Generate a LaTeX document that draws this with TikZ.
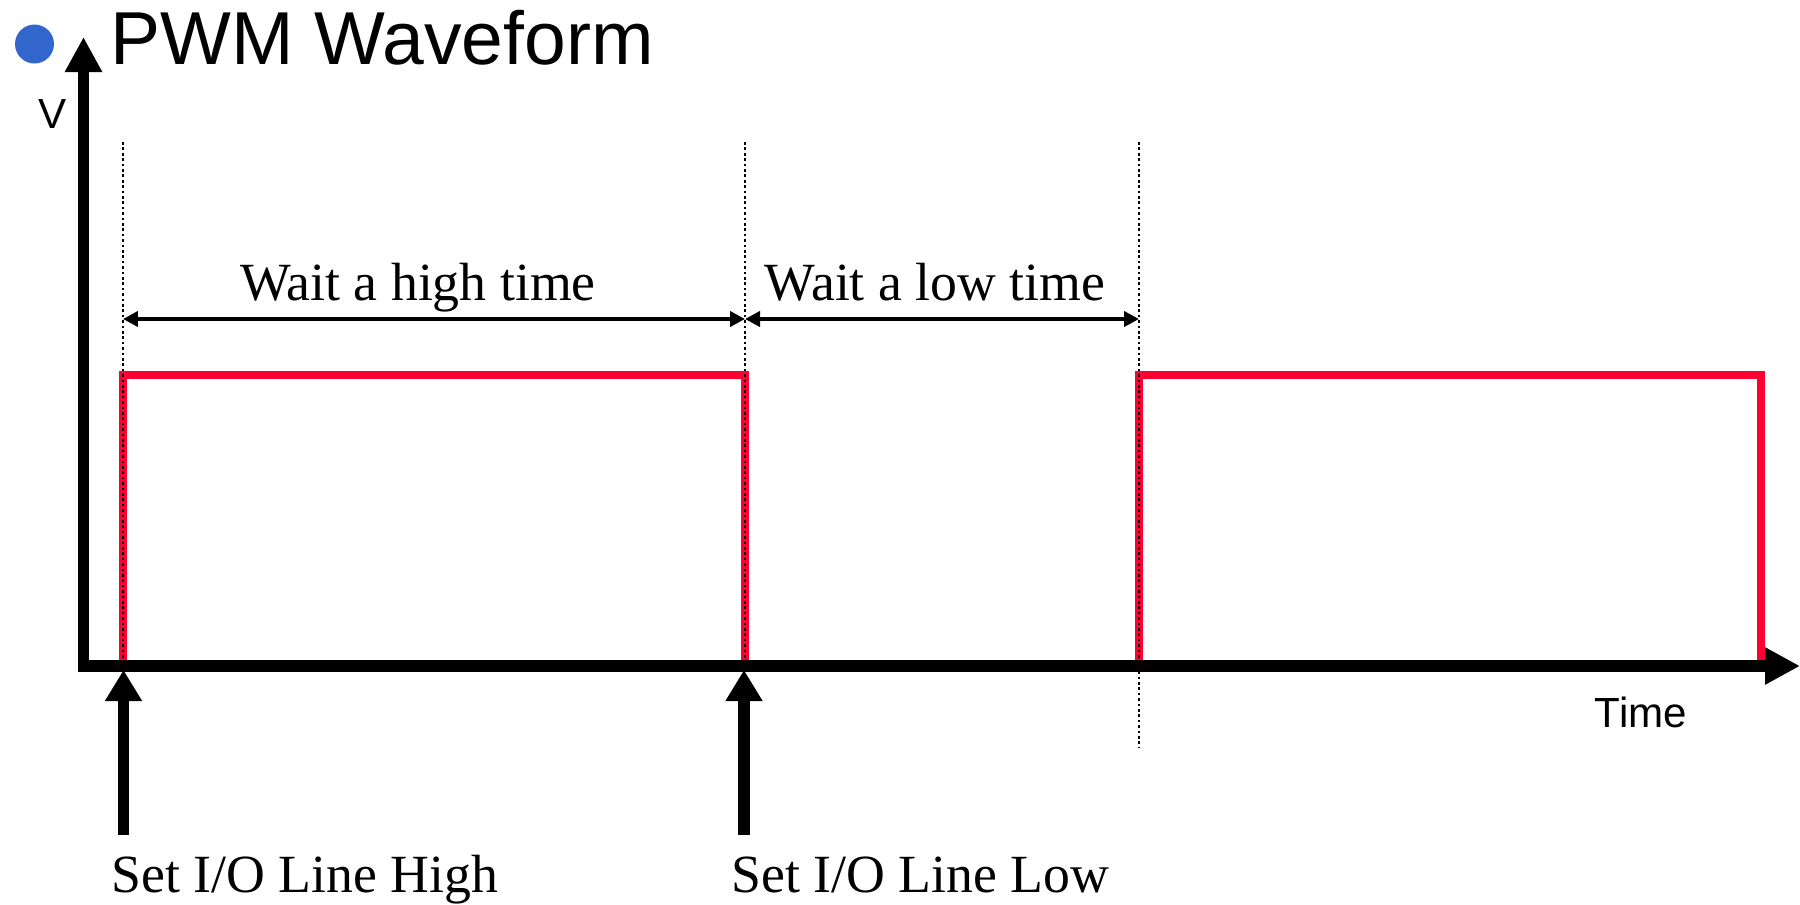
\documentclass[tikz,border=0pt]{standalone}
\usepackage{fontspec}
\setmainfont{Liberation Serif}
\setsansfont{Liberation Sans}
\usetikzlibrary{positioning, arrows.meta}
\definecolor{pwmred}{HTML}{FF0033}
\definecolor{bulletblue}{HTML}{3366CC}

\begin{document}
\begin{tikzpicture}[
    x=0.02cm,
    y=-0.02cm,
    axis/.style={
        {Triangle[length=0.7cm, width=0.7cm]}-{Triangle[length=0.7cm, width=0.7cm]},
        line width=0.234cm,
        line join=miter
    },
    push/.style={
        -{Triangle[length=0.62cm, width=0.7cm]},
        line width=0.234cm
    },
    span/.style={
        {Triangle[length=0.3cm, width=0.3cm]}-{Triangle[length=0.3cm, width=0.3cm]},
        line width=0.08cm
    },
    wave/.style={
        draw=pwmred,
        line width=0.15cm,
        line join=miter
    },
    guide/.style={
        line width=0.054cm,
        dash pattern=on 0.054cm off 0.054cm
    },
    waitlabel/.style={
        font=\fontsize{30.6}{36}\selectfont,
        inner sep=0pt,
        anchor=base
    },
    setlabel/.style={
        waitlabel,
        anchor=base west
    },
    sanslabel/.style={
        font=\sffamily\fontsize{24}{28}\selectfont,
        inner sep=0pt,
        anchor=base
    }
]
    \useasboundingbox (0,0) rectangle (1800,904);

    % Title
    \node[circle, fill=bulletblue, inner sep=0pt, minimum size=0.78cm] (bullet) at (34.5,44) {};
    \node[font=\sffamily\fontsize{42.7}{48}\selectfont, inner sep=0pt, anchor=base west] (title) at (110,64) {PWM Waveform};

    % Edges of the waveform
    \coordinate (origin) at (83.5,666);
    \coordinate (vtip) at (83.5,37);
    \coordinate (ttip) at (1800,666);
    \coordinate (rise1) at (123,666);
    \coordinate (fall1) at (745,666);
    \coordinate (rise2) at (1139,666);
    \coordinate (fall2) at (1761,666);

    % Waveform
    \draw[wave] (rise1) -- (123,375) -- (745,375) -- (fall1);
    \draw[wave] (rise2) -- (1139,375) -- (1761,375) -- (fall2);

    % Guides
    \draw[guide] (123,142) -- (rise1);
    \draw[guide] (745,142) -- (fall1);
    \draw[guide] (1139,142) -- (1139,747);

    % Axes
    \draw[axis] (vtip) -- (origin) -- (ttip);
    \node[sanslabel] (vlabel) at (52.5,128) {V};
    \node[sanslabel] (timelabel) at (1641,727) {Time};

    % High and low times
    \coordinate (span0) at (123,319);
    \coordinate (span1) at (745,319);
    \coordinate (span2) at (1139,319);
    \draw[span] (span0) -- (span1);
    \draw[span] (span1) -- (span2);
    \node[waitlabel] (highwait) at (418,300) {Wait a high time};
    \node[waitlabel] (lowwait) at (935,300) {Wait a low time};

    % Set the I/O line
    \coordinate (hit1) at (123.5,670);
    \coordinate (hit2) at (744,670);
    \coordinate (push1) at (123.5,835);
    \coordinate (push2) at (744,835);
    \draw[push] (push1) -- (hit1);
    \draw[push] (push2) -- (hit2);
    \node[setlabel] (sethigh) at (111,892) {Set I/O Line High};
    \node[setlabel] (setlow) at (731,892) {Set I/O Line Low};

\end{tikzpicture}
\end{document}
